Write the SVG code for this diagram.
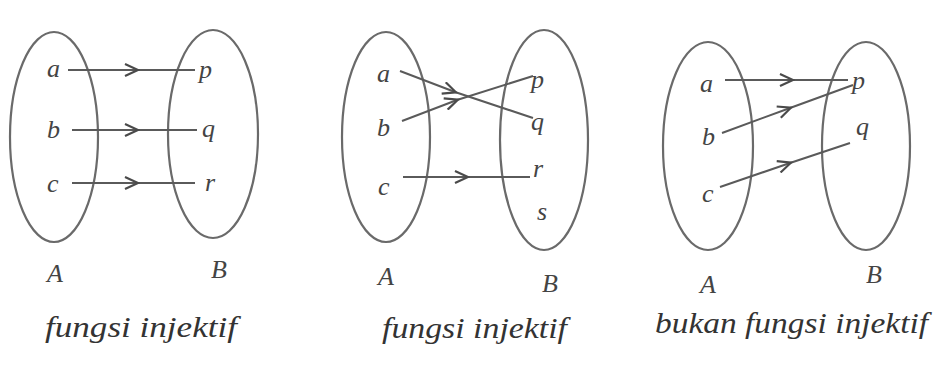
<svg xmlns="http://www.w3.org/2000/svg" width="934" height="376" viewBox="0 0 934 376">
<style>
.set{fill:none;stroke:#6a6a6a;stroke-width:2.2}
.ln{fill:none;stroke:#5a5a5a;stroke-width:2;marker-mid:url(#chev)}
.el{font-family:"Liberation Serif","DejaVu Serif",serif;font-style:italic;font-size:26px;fill:#444}
.cap{font-family:"Liberation Serif","DejaVu Serif",serif;font-style:italic;font-size:30px;fill:#333}
</style>
<defs>
<marker id="chev" viewBox="0 0 16 14" refX="13" refY="7" markerWidth="16" markerHeight="14" markerUnits="userSpaceOnUse" orient="auto">
<path d="M1,1 L14,7 L1,13" fill="none" stroke="#4a4a4a" stroke-width="2.2"/>
</marker>
</defs>
<rect width="934" height="376" fill="#ffffff"/>

<g id="panel1">
<g id="p1-A"><ellipse class="set" cx="54" cy="137" rx="44" ry="105"/>
<text class="el" x="47" y="77">a</text><text class="el" x="47" y="138">b</text><text class="el" x="47" y="192">c</text>
<text class="el" x="47" y="282">A</text></g>
<g id="p1-B"><ellipse class="set" cx="213" cy="134" rx="45" ry="104"/>
<text class="el" x="199" y="78">p</text><text class="el" x="202" y="137">q</text><text class="el" x="205" y="191">r</text>
<text class="el" x="211" y="278">B</text></g>
<text class="cap" x="45" y="337" textLength="192" lengthAdjust="spacingAndGlyphs">fungsi injektif</text>
</g>

<g id="panel2">
<g id="p2-A"><ellipse class="set" cx="386" cy="137" rx="44" ry="105"/>
<text class="el" x="377" y="82">a</text><text class="el" x="377" y="136">b</text><text class="el" x="378" y="195">c</text>
<text class="el" x="378" y="285">A</text></g>
<g id="p2-B"><ellipse class="set" cx="544" cy="140" rx="44" ry="110"/>
<text class="el" x="531" y="88">p</text><text class="el" x="531" y="130">q</text><text class="el" x="533" y="177">r</text><text class="el" x="537" y="220">s</text>
<text class="el" x="542" y="292">B</text></g>
<text class="cap" x="382" y="338" textLength="185" lengthAdjust="spacingAndGlyphs">fungsi injektif</text>
</g>

<g id="panel3">
<g id="p3-A"><ellipse class="set" cx="708" cy="146" rx="45" ry="104"/>
<text class="el" x="700" y="92">a</text><text class="el" x="702" y="145">b</text><text class="el" x="702" y="202">c</text>
<text class="el" x="700" y="293">A</text></g>
<g id="p3-B"><ellipse class="set" cx="866" cy="146" rx="44" ry="104"/>
<text class="el" x="852" y="89">p</text><text class="el" x="856" y="135">q</text>
<text class="el" x="866" y="283">B</text></g>
<text class="cap" x="655" y="333" textLength="273" lengthAdjust="spacingAndGlyphs">bukan fungsi injektif</text>
</g>

<g id="connectors">
<path class="ln" d="M68,70 L137,70 L195,70"/>
<path class="ln" d="M72,130 L137,130 L197,130"/>
<path class="ln" d="M72,183 L137,183 L195,183"/>
<path class="ln" d="M400,71 L455,92 L533,118"/>
<path class="ln" d="M402,121 L457,100 L533,76"/>
<path class="ln" d="M403,177 L467,177 L530,177"/>
<path class="ln" d="M725,80 L792,80 L848,80"/>
<path class="ln" d="M722,133 L790,108 L853,85"/>
<path class="ln" d="M720,187 L790,163 L850,143"/>
</g>
</svg>
